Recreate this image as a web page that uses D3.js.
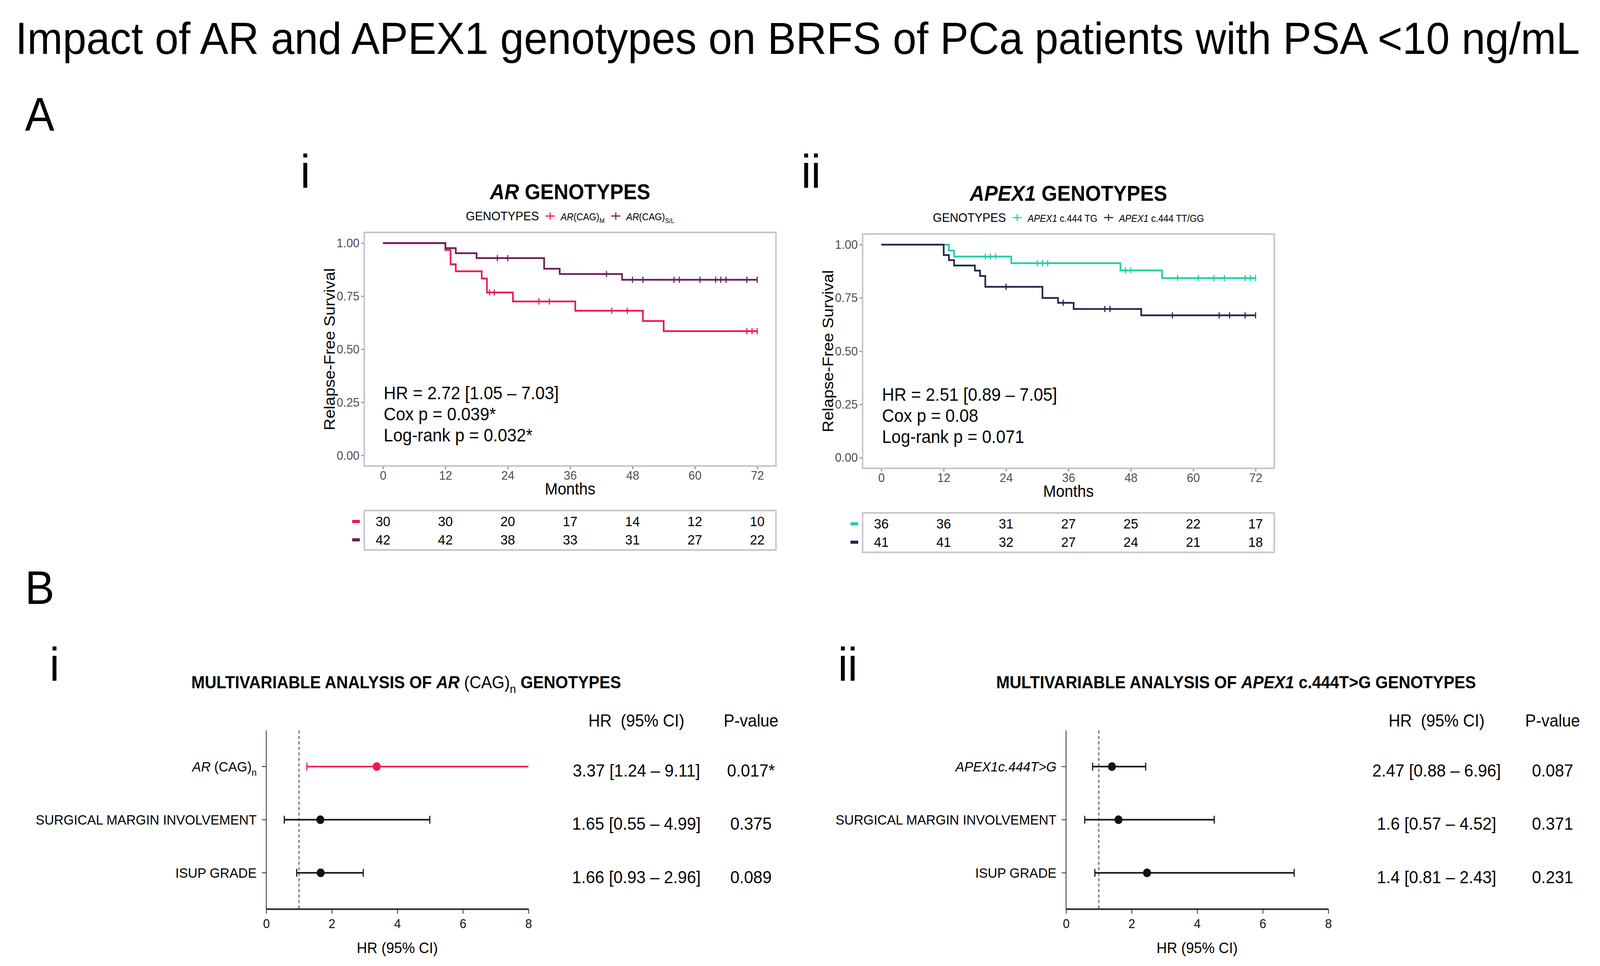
<!DOCTYPE html>
<html>
<head>
<meta charset="utf-8">
<script src="https://cdn.jsdelivr.net/npm/d3@7"></script>
<style>
  html, body { margin: 0; padding: 0; background: #fff; overflow: hidden; }
  svg { display: block; }
  text { font-family: "Liberation Sans", Arial, sans-serif; }
</style>
</head>
<body>
<script>
// ---- data ----
var monthTicks = [0, 12, 24, 36, 48, 60, 72];
var survTicks = [0, 0.25, 0.5, 0.75, 1];
var hrTicks = [0, 2, 4, 6, 8];

// A-i : AR(CAG)M
var arMTimes = [0, 12, 13, 14, 19, 20, 25, 37, 50, 54];
var arMSurv = [1.000, 0.967, 0.900, 0.867, 0.833, 0.767, 0.725, 0.681, 0.633, 0.585];
var arMCensor = [20.5, 21.4, 30, 32, 44, 47, 70, 71, 72];
var arMRisk = [30, 30, 20, 17, 14, 12, 10];
// A-i : AR(CAG)S/L
var arSLTimes = [0, 12, 14, 18, 31, 34, 46];
var arSLSurv = [1.000, 0.976, 0.952, 0.929, 0.879, 0.854, 0.827];
var arSLCensor = [22, 24, 43, 48, 50, 56, 57, 61, 64, 65, 66, 70, 72];
var arSLRisk = [42, 42, 38, 33, 31, 27, 22];

// A-ii : APEX1 c.444 TG
var apTGTimes = [0, 13, 14, 25, 46, 54];
var apTGSurv = [1.000, 0.972, 0.944, 0.913, 0.879, 0.843];
var apTGCensor = [20, 21, 22, 30, 31, 32, 47, 48, 57, 61, 64, 66, 70, 71, 72];
var apTGRisk = [36, 36, 31, 27, 25, 22, 17];
// A-ii : APEX1 c.444 TT/GG
var apTTTimes = [0, 12, 13, 14, 18, 19, 20, 31, 34, 37, 50];
var apTTSurv = [1.000, 0.951, 0.927, 0.902, 0.878, 0.853, 0.802, 0.750, 0.727, 0.698, 0.668];
var apTTCensor = [24, 35, 43, 44, 56, 65, 67, 70, 72];
var apTTRisk = [41, 41, 32, 27, 24, 21, 18];

var arStats = ["HR = 2.72 [1.05 \u2013 7.03]", "Cox p = 0.039*", "Log-rank p = 0.032*"];
var apStats = ["HR = 2.51 [0.89 \u2013 7.05]", "Cox p = 0.08", "Log-rank p = 0.071"];

// B-i : multivariable AR
var arRows = ["AR (CAG)n", "SURGICAL MARGIN INVOLVEMENT", "ISUP GRADE"];
var arHR = [3.37, 1.65, 1.66];
var arLo = [1.24, 0.55, 0.93];
var arHi = [9.11, 4.99, 2.96];
var arHRText = ["3.37 [1.24 \u2013 9.11]", "1.65 [0.55 \u2013 4.99]", "1.66 [0.93 \u2013 2.96]"];
var arPText = ["0.017*", "0.375", "0.089"];

// B-ii : multivariable APEX1 (marks as plotted in the figure)
var apRows = ["APEX1c.444T>G", "SURGICAL MARGIN INVOLVEMENT", "ISUP GRADE"];
var apHR = [1.40, 1.60, 2.47];
var apLo = [0.81, 0.57, 0.88];
var apHi = [2.43, 4.52, 6.96];
var apHRText = ["2.47 [0.88 \u2013 6.96]", "1.6 [0.57 \u2013 4.52]", "1.4 [0.81 \u2013 2.43]"];
var apPText = ["0.087", "0.371", "0.231"];

var RED = "#F2184E", PURPLE = "#6A1F55", GREEN = "#1FD1A1", NAVY = "#23264F";

var width = 4357, height = 2473;
// fill the real viewport with the 4357x2473 figure frame
var svg = d3.select("body").append("svg")
  .attr("viewBox", "0 0 " + width + " " + height)
  .attr("preserveAspectRatio", "none")
  .style("width", "100vw").style("height", "100vh");

// text with italic / subscript pieces
function rich(sel, segs, size) {
  segs.forEach(function(s, i) {
    var t = sel.append("tspan").text(s.t);
    if (s.i) t.attr("font-style", "italic");
    if (s.n) t.attr("font-weight", "normal");
    var prevSub = i > 0 && segs[i - 1].sub;
    if (s.sub) t.attr("font-size", size * 0.68).attr("dy", prevSub ? 0 : size * 0.28);
    else if (prevSub) t.attr("dy", -size * 0.28);
  });
}

// ---- headings ----
// main title: size it so its natural width fits the space it has in the figure
var title = svg.append("text").attr("x", 42).attr("y", 138)
  .attr("font-family", "Lato, 'Open Sans', sans-serif").attr("font-size", 126)
  .text("Impact of AR and APEX1 genotypes on BRFS of PCa patients with PSA <10 ng/mL");
var natural = title.node().getComputedTextLength();
if (natural > 4260) title.attr("font-size", 126 * 4260 / natural);

var letters = [["A", 68, 334], ["B", 68, 1546], ["i", 818, 480], ["ii", 2182, 480], ["i", 135, 1742], ["ii", 2282, 1742]];
svg.selectAll("text.lab").data(letters).join("text").attr("class", "lab")
  .attr("x", function(d) { return d[1]; }).attr("y", function(d) { return d[2]; })
  .attr("font-family", "Lato, 'Open Sans', sans-serif").attr("font-size", 120)
  .text(function(d) { return d[0]; });

// ---- Kaplan-Meier panel ----
function drawKM(o) {
  var g = svg.append("g");
  var xScale = d3.scaleLinear().domain([-3.6, 75.6]).range([o.left, o.left + o.w]);
  var yScale = d3.scaleLinear().domain([-0.05, 1.05]).range([o.top + o.h, o.top]);
  var bottom = o.top + o.h;

  // title
  var tt = g.append("text").attr("x", o.left + o.w / 2).attr("y", o.top - 85)
    .attr("text-anchor", "middle").attr("font-size", 55).attr("font-weight", "bold");
  rich(tt, o.titleSegs, 55);

  // legend
  var lg = g.append("g");
  var lx = 0;
  var lt = lg.append("text").attr("x", lx).attr("y", 0).attr("font-size", 32).text("GENOTYPES");
  lx += lt.node().getComputedTextLength() + 18;
  o.series.forEach(function(s) {
    lg.append("line").attr("x1", lx).attr("x2", lx + 25).attr("y1", -11).attr("y2", -11)
      .attr("stroke", s.color).attr("stroke-width", 3);
    lg.append("line").attr("x1", lx + 12.5).attr("x2", lx + 12.5).attr("y1", -20).attr("y2", -2)
      .attr("stroke", s.color).attr("stroke-width", 3);
    lx += 25 + 16;
    var st = lg.append("text").attr("x", lx).attr("y", 0).attr("font-size", 25);
    rich(st, s.segs, 25);
    lx += st.node().getComputedTextLength() + 18;
  });
  lx -= 18;
  lg.attr("transform", "translate(" + (o.left + o.w / 2 - lx / 2) + "," + (o.top - 31) + ")");

  // axes
  var axX = g.append("g").attr("transform", "translate(0," + bottom + ")")
    .call(d3.axisBottom(xScale).tickValues(monthTicks).tickSize(8).tickPadding(4));
  var axY = g.append("g").attr("transform", "translate(" + o.left + ",0)")
    .call(d3.axisLeft(yScale).tickValues(survTicks).tickSize(8).tickPadding(5).tickFormat(d3.format(".2f")));
  [axX, axY].forEach(function(a) {
    a.select(".domain").remove();
    a.selectAll("line").attr("stroke", "#8a8a8a").attr("stroke-width", 3);
    a.selectAll("text").attr("font-size", 32).attr("fill", "#4d4d4d")
      .attr("font-family", "'Liberation Sans', Arial, sans-serif");
  });

  // panel border
  g.append("rect").attr("x", o.left).attr("y", o.top).attr("width", o.w).attr("height", o.h)
    .attr("fill", "none").attr("stroke", "#c4c4c4").attr("stroke-width", 4);

  g.append("text").attr("x", o.left + o.w / 2).attr("y", bottom + 73)
    .attr("text-anchor", "middle").attr("font-size", 42).text("Months");
  g.append("text").attr("transform", "translate(" + (o.left - 80) + "," + (o.top + o.h / 2) + ") rotate(-90)")
    .attr("text-anchor", "middle").attr("font-size", 42).text("Relapse-Free Survival");

  // curves + censor marks
  o.series.forEach(function(s) {
    var pts = s.times.map(function(t, i) { return [t, s.surv[i]]; });
    pts.push([d3.max(s.censor), s.surv[s.surv.length - 1]]);
    g.append("path").datum(pts).attr("fill", "none").attr("stroke", s.color).attr("stroke-width", 4.5)
      .attr("d", d3.line().curve(d3.curveStepAfter)
        .x(function(d) { return xScale(d[0]); }).y(function(d) { return yScale(d[1]); }));
    var at = function(t) { return s.surv[d3.bisectRight(s.times, t) - 1]; };
    g.selectAll(null).data(s.censor).join("line")
      .attr("x1", function(d) { return xScale(d); }).attr("x2", function(d) { return xScale(d); })
      .attr("y1", function(d) { return yScale(at(d)) - 8; }).attr("y2", function(d) { return yScale(at(d)) + 8; })
      .attr("stroke", s.color).attr("stroke-width", 3);
  });

  // stats
  g.selectAll(null).data(o.stats).join("text")
    .attr("x", xScale(0) + 2).attr("y", function(d, i) { return o.top + 427 + i * 54; })
    .attr("font-size", 46).text(function(d) { return d; });

  // risk table
  var rt = bottom + 114, rh = 101;
  g.append("rect").attr("x", o.left).attr("y", rt).attr("width", o.w).attr("height", rh)
    .attr("fill", "none").attr("stroke", "#c4c4c4").attr("stroke-width", 4);
  o.series.forEach(function(s, k) {
    var ry = rt + 28 + k * 47;
    g.append("rect").attr("x", o.left - 33).attr("y", ry - 4).attr("width", 21).attr("height", 8).attr("fill", s.color);
    g.selectAll(null).data(s.risk).join("text")
      .attr("x", function(d, i) { return xScale(monthTicks[i]); }).attr("y", ry + 12)
      .attr("text-anchor", "middle").attr("font-size", 36).text(function(d) { return d; });
  });
}

drawKM({
  left: 992, top: 595, w: 1121, h: 598,
  titleSegs: [{ t: "AR", i: 1 }, { t: " GENOTYPES" }],
  stats: arStats,
  series: [
    { times: arMTimes, surv: arMSurv, censor: arMCensor, risk: arMRisk, color: RED,
      segs: [{ t: "AR", i: 1 }, { t: "(CAG)" }, { t: "M", sub: 1 }] },
    { times: arSLTimes, surv: arSLSurv, censor: arSLCensor, risk: arSLRisk, color: PURPLE,
      segs: [{ t: "AR", i: 1 }, { t: "(CAG)" }, { t: "S/L", sub: 1 }] }
  ]
});

drawKM({
  left: 2349, top: 599, w: 1121, h: 600,
  titleSegs: [{ t: "APEX1", i: 1 }, { t: " GENOTYPES" }],
  stats: apStats,
  series: [
    { times: apTGTimes, surv: apTGSurv, censor: apTGCensor, risk: apTGRisk, color: GREEN,
      segs: [{ t: "APEX1", i: 1 }, { t: " c.444 TG" }] },
    { times: apTTTimes, surv: apTTSurv, censor: apTTCensor, risk: apTTRisk, color: NAVY,
      segs: [{ t: "APEX1", i: 1 }, { t: " c.444 TT/GG" }] }
  ]
});

// ---- forest plots ----
var rowSegs = {
  "AR (CAG)n": [{ t: "AR", i: 1 }, { t: " (CAG)" }, { t: "n", sub: 1 }],
  "APEX1c.444T>G": [{ t: "APEX1c.444T>G", i: 1 }]
};

function drawForest(o) {
  var g = svg.append("g");
  var xScale = d3.scaleLinear().domain([0, 8]).range([o.x0, o.x1]);
  var yScale = d3.scalePoint().domain(o.rows).range([o.top, o.bottom]).padding(0.68);

  var tt = g.append("text").attr("x", o.titleX).attr("y", 1762).attr("text-anchor", "middle")
    .attr("font-size", 44).attr("font-weight", "bold");
  rich(tt, o.titleSegs, 44);

  // axes
  var ax = g.append("g").attr("transform", "translate(0," + o.bottom + ")")
    .call(d3.axisBottom(xScale).tickValues(hrTicks).tickSize(12).tickPadding(14).tickSizeOuter(0));
  ax.select(".domain").attr("stroke", "#222").attr("stroke-width", 4);
  ax.selectAll("line").attr("stroke", "#222").attr("stroke-width", 2);
  ax.selectAll("text").attr("font-size", 33).attr("fill", "#111")
    .attr("font-family", "'Liberation Sans', Arial, sans-serif");
  g.append("line").attr("x1", o.x0).attr("x2", o.x0).attr("y1", o.top).attr("y2", o.bottom)
    .attr("stroke", "#222").attr("stroke-width", 2);
  g.append("line").attr("x1", xScale(1)).attr("x2", xScale(1)).attr("y1", o.top).attr("y2", o.bottom)
    .attr("stroke", "#222").attr("stroke-width", 2).attr("stroke-dasharray", "8,6");
  g.append("text").attr("x", (o.x0 + o.x1) / 2).attr("y", 2440).attr("text-anchor", "middle")
    .attr("font-size", 39).text("HR (95% CI)");

  // row labels + ticks
  o.rows.forEach(function(r, i) {
    var ry = yScale(r);
    g.append("line").attr("x1", o.x0 - 12).attr("x2", o.x0).attr("y1", ry).attr("y2", ry)
      .attr("stroke", "#222").attr("stroke-width", 2);
    var lt = g.append("text").attr("x", o.x0 - 26).attr("y", ry + 13)
      .attr("text-anchor", "end").attr("font-size", 36);
    rich(lt, rowSegs[r] || [{ t: r }], 36);

    var col = o.colors[i];
    var hi = Math.min(o.hi[i], 8);
    g.append("line").attr("x1", xScale(o.lo[i])).attr("x2", xScale(hi)).attr("y1", ry).attr("y2", ry)
      .attr("stroke", col).attr("stroke-width", 4);
    var caps = [o.lo[i]];
    if (o.hi[i] <= 8) caps.push(o.hi[i]);
    caps.forEach(function(c) {
      g.append("line").attr("x1", xScale(c)).attr("x2", xScale(c)).attr("y1", ry - 10).attr("y2", ry + 10)
        .attr("stroke", col).attr("stroke-width", 3);
    });
    g.append("circle").attr("cx", xScale(o.hr[i])).attr("cy", ry).attr("r", 11).attr("fill", col);

    g.append("text").attr("x", o.colHR).attr("y", ry + 26).attr("text-anchor", "middle")
      .attr("font-size", 45).text(o.hrText[i]);
    g.append("text").attr("x", o.colP).attr("y", ry + 26).attr("text-anchor", "middle")
      .attr("font-size", 45).text(o.pText[i]);
  });

  g.append("text").attr("x", o.colHR).attr("y", 1860).attr("text-anchor", "middle")
    .attr("font-size", 44).attr("xml:space", "preserve").text("HR  (95% CI)");
  g.append("text").attr("x", o.colP).attr("y", 1860).attr("text-anchor", "middle")
    .attr("font-size", 44).text("P-value");
}

drawForest({
  x0: 725, x1: 1439, top: 1870, bottom: 2327, titleX: 1106, colHR: 1733, colP: 2045,
  titleSegs: [{ t: "MULTIVARIABLE ANALYSIS OF " }, { t: "AR", i: 1 }, { t: " (CAG)", n: 1 }, { t: "n", sub: 1, n: 1 }, { t: " GENOTYPES" }],
  rows: arRows, hr: arHR, lo: arLo, hi: arHi, hrText: arHRText, pText: arPText,
  colors: [RED, "#111", "#111"]
});

drawForest({
  x0: 2903, x1: 3617, top: 1870, bottom: 2327, titleX: 3366, colHR: 3912, colP: 4228,
  titleSegs: [{ t: "MULTIVARIABLE ANALYSIS OF " }, { t: "APEX1", i: 1 }, { t: " c.444T>G GENOTYPES" }],
  rows: apRows, hr: apHR, lo: apLo, hi: apHi, hrText: apHRText, pText: apPText,
  colors: ["#111", "#111", "#111"]
});
</script>
</body>
</html>
